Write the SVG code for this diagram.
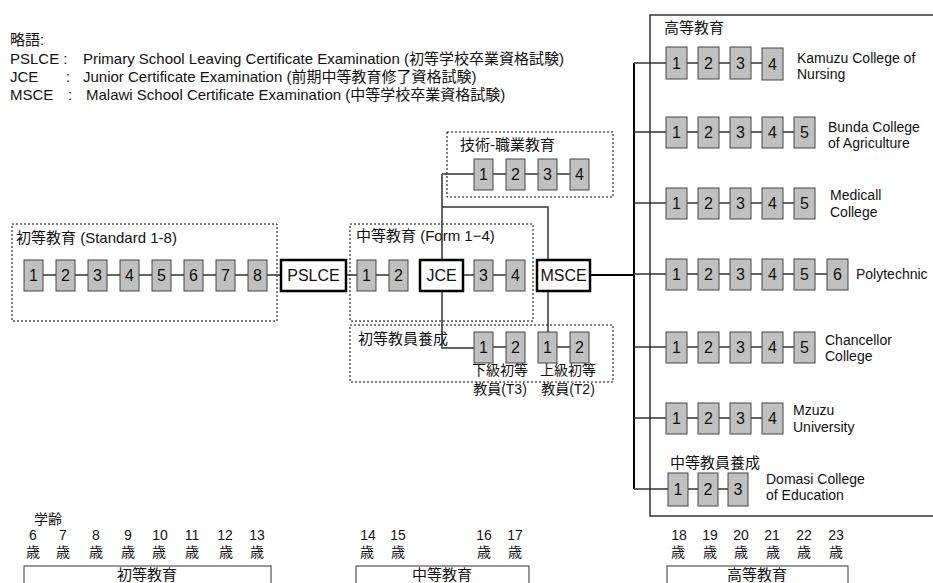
<svg xmlns="http://www.w3.org/2000/svg" width="933" height="583" viewBox="0 0 933 583">
<style>
text{font-family:"Liberation Sans","Noto Sans CJK JP",sans-serif;fill:#111;}
.t{font-size:14px;}
.g{font-size:15px;}
.h{font-size:15px;}
.n{font-size:16px;text-anchor:middle;}
.a{font-size:14px;text-anchor:middle;}
.b{fill:#c0c0c0;stroke:#444;stroke-width:1;}
.x{fill:#fff;stroke:#000;stroke-width:2.5;}
.d{fill:none;stroke:#000;stroke-width:1;stroke-dasharray:2,2;}
.l{fill:none;stroke:#333;stroke-width:1.5;}
.lt{fill:none;stroke:#000;stroke-width:2;}
.o{fill:none;stroke:#333;stroke-width:1.5;}
</style>

<g id="legend">
<text class="g" x="10" y="45">略語:</text>
<text class="g" x="10" y="64">PSLCE :</text>
<text class="g" x="83" y="64">Primary School Leaving Certificate Examination (初等学校卒業資格試験)</text>
<text class="g" x="10" y="82">JCE</text>
<text class="g" x="66" y="82">:</text>
<text class="g" x="83" y="82">Junior Certificate Examination (前期中等教育修了資格試験)</text>
<text class="g" x="10" y="100">MSCE</text>
<text class="g" x="68" y="100">:</text>
<text class="g" x="86" y="100">Malawi School Certificate Examination (中等学校卒業資格試験)</text>
</g>

<g id="frames">
<rect class="d" x="12" y="224" width="265" height="97"/>
<text class="h" x="16" y="243">初等教育 (Standard 1-8)</text>
<rect class="d" x="350" y="224" width="183" height="97"/>
<text class="h" x="356" y="241">中等教育 (Form 1−4)</text>
<rect class="d" x="447" y="132" width="166" height="65"/>
<text class="h" x="460" y="150">技術-職業教育</text>
<rect class="d" x="350" y="325" width="263" height="57"/>
<text class="h" x="358" y="344">初等教員養成</text>
<rect class="o" x="650" y="15" width="300" height="501"/>
<text class="h" x="664" y="33">高等教育</text>
<text class="h" x="670" y="468">中等教員養成</text>
</g>

<g id="connectors">
<path class="l" d="M33 275H281 M346 275H398 M442 275H516 M442 174H580 M442 174V348H484 M442 207H548V259 M548 291V332 M484 347H516 M548 347H580"/>
<path class="lt" d="M590 275H634 M634 63V489"/>
<path class="l" d="M634 63H773 M634 132H805 M634 203H805 M634 274H837 M634 347H805 M634 418H773 M634 489H738"/>
</g>

<g id="primary">
<rect class="b" x="24" y="260" width="19" height="31"/><text class="n" x="33.5" y="281">1</text>
<rect class="b" x="56" y="260" width="19" height="31"/><text class="n" x="65.5" y="281">2</text>
<rect class="b" x="88" y="260" width="19" height="31"/><text class="n" x="97.5" y="281">3</text>
<rect class="b" x="120" y="260" width="19" height="31"/><text class="n" x="129.5" y="281">4</text>
<rect class="b" x="152" y="260" width="19" height="31"/><text class="n" x="161.5" y="281">5</text>
<rect class="b" x="184" y="260" width="19" height="31"/><text class="n" x="193.5" y="281">6</text>
<rect class="b" x="216" y="260" width="19" height="31"/><text class="n" x="225.5" y="281">7</text>
<rect class="b" x="248" y="260" width="19" height="31"/><text class="n" x="257.5" y="281">8</text>
</g>
<g id="pslce">
<rect class="x" x="281" y="260" width="65" height="31"/><text class="n" x="313.5" y="281">PSLCE</text>
</g>
<g id="secondary">
<rect class="b" x="357" y="260" width="19" height="31"/><text class="n" x="366.5" y="281">1</text>
<rect class="b" x="389" y="260" width="19" height="31"/><text class="n" x="398.5" y="281">2</text>
<rect class="b" x="474" y="260" width="19" height="31"/><text class="n" x="483.5" y="281">3</text>
<rect class="b" x="506" y="260" width="19" height="31"/><text class="n" x="515.5" y="281">4</text>
</g>
<g id="jce">
<rect class="x" x="420" y="260" width="43" height="31"/><text class="n" x="441.5" y="281">JCE</text>
</g>
<g id="msce">
<rect class="x" x="537" y="260" width="53" height="31"/><text class="n" x="563.5" y="281">MSCE</text>
</g>
<g id="technical">
<rect class="b" x="474" y="159" width="19" height="31"/><text class="n" x="483.5" y="180">1</text>
<rect class="b" x="506" y="159" width="19" height="31"/><text class="n" x="515.5" y="180">2</text>
<rect class="b" x="538" y="159" width="19" height="31"/><text class="n" x="547.5" y="180">3</text>
<rect class="b" x="570" y="159" width="19" height="31"/><text class="n" x="579.5" y="180">4</text>
</g>
<g id="teacher-t3">
<rect class="b" x="474" y="332" width="19" height="31"/><text class="n" x="483.5" y="353">1</text>
<rect class="b" x="506" y="332" width="19" height="31"/><text class="n" x="515.5" y="353">2</text>
<text class="a" x="500" y="375">下級初等</text>
<text class="a" x="500" y="394">教員(T3)</text>
</g>
<g id="teacher-t2">
<rect class="b" x="538" y="332" width="19" height="31"/><text class="n" x="547.5" y="353">1</text>
<rect class="b" x="570" y="332" width="19" height="31"/><text class="n" x="579.5" y="353">2</text>
<text class="a" x="568" y="375">上級初等</text>
<text class="a" x="568" y="394">教員(T2)</text>
</g>

<g id="kamuzu">
<rect class="b" x="666" y="47" width="21" height="32"/><text class="n" x="676.5" y="69">1</text>
<rect class="b" x="698" y="47" width="21" height="32"/><text class="n" x="708.5" y="69">2</text>
<rect class="b" x="730" y="47" width="21" height="32"/><text class="n" x="740.5" y="69">3</text>
<rect class="b" x="762" y="48" width="21" height="32"/><text class="n" x="772.5" y="70">4</text>
<text class="t" x="797" y="63">Kamuzu College of</text>
<text class="t" x="797" y="79">Nursing</text>
</g>
<g id="bunda">
<rect class="b" x="666" y="117" width="21" height="31"/><text class="n" x="676.5" y="138">1</text>
<rect class="b" x="698" y="117" width="21" height="31"/><text class="n" x="708.5" y="138">2</text>
<rect class="b" x="730" y="117" width="21" height="31"/><text class="n" x="740.5" y="138">3</text>
<rect class="b" x="762" y="117" width="21" height="31"/><text class="n" x="772.5" y="138">4</text>
<rect class="b" x="794" y="117" width="21" height="31"/><text class="n" x="804.5" y="138">5</text>
<text class="t" x="828" y="132">Bunda College</text>
<text class="t" x="828" y="148">of Agriculture</text>
</g>
<g id="medical">
<rect class="b" x="666" y="188" width="21" height="31"/><text class="n" x="676.5" y="209">1</text>
<rect class="b" x="698" y="188" width="21" height="31"/><text class="n" x="708.5" y="209">2</text>
<rect class="b" x="730" y="188" width="21" height="31"/><text class="n" x="740.5" y="209">3</text>
<rect class="b" x="762" y="188" width="21" height="31"/><text class="n" x="772.5" y="209">4</text>
<rect class="b" x="794" y="188" width="21" height="31"/><text class="n" x="804.5" y="209">5</text>
<text class="t" x="830" y="200">Medicall</text>
<text class="t" x="830" y="217">College</text>
</g>
<g id="polytechnic">
<rect class="b" x="666" y="259" width="21" height="31"/><text class="n" x="676.5" y="280">1</text>
<rect class="b" x="698" y="259" width="21" height="31"/><text class="n" x="708.5" y="280">2</text>
<rect class="b" x="730" y="259" width="21" height="31"/><text class="n" x="740.5" y="280">3</text>
<rect class="b" x="762" y="259" width="21" height="31"/><text class="n" x="772.5" y="280">4</text>
<rect class="b" x="794" y="259" width="21" height="31"/><text class="n" x="804.5" y="280">5</text>
<rect class="b" x="827" y="259" width="21" height="31"/><text class="n" x="837.5" y="280">6</text>
<text class="t" x="856" y="279">Polytechnic</text>
</g>
<g id="chancellor">
<rect class="b" x="666" y="332" width="21" height="31"/><text class="n" x="676.5" y="353">1</text>
<rect class="b" x="698" y="332" width="21" height="31"/><text class="n" x="708.5" y="353">2</text>
<rect class="b" x="730" y="332" width="21" height="31"/><text class="n" x="740.5" y="353">3</text>
<rect class="b" x="762" y="332" width="21" height="31"/><text class="n" x="772.5" y="353">4</text>
<rect class="b" x="794" y="332" width="21" height="31"/><text class="n" x="804.5" y="353">5</text>
<text class="t" x="825" y="345">Chancellor</text>
<text class="t" x="825" y="361">College</text>
</g>
<g id="mzuzu">
<rect class="b" x="666" y="403" width="21" height="31"/><text class="n" x="676.5" y="424">1</text>
<rect class="b" x="698" y="403" width="21" height="31"/><text class="n" x="708.5" y="424">2</text>
<rect class="b" x="730" y="403" width="21" height="31"/><text class="n" x="740.5" y="424">3</text>
<rect class="b" x="762" y="403" width="21" height="31"/><text class="n" x="772.5" y="424">4</text>
<text class="t" x="793" y="415">Mzuzu</text>
<text class="t" x="793" y="432">University</text>
</g>
<g id="domasi">
<rect class="b" x="668" y="473" width="20" height="33"/><text class="n" x="678" y="495">1</text>
<rect class="b" x="698" y="473" width="20" height="33"/><text class="n" x="708" y="495">2</text>
<rect class="b" x="728" y="473" width="20" height="33"/><text class="n" x="738" y="495">3</text>
<text class="t" x="766" y="484">Domasi College</text>
<text class="t" x="766" y="500">of Education</text>
</g>

<g id="ages">
<text class="a" x="48" y="524">学齢</text>
<text class="a" x="33" y="540">6</text><text class="a" x="33" y="557">歳</text>
<text class="a" x="63" y="540">7</text><text class="a" x="63" y="557">歳</text>
<text class="a" x="96" y="540">8</text><text class="a" x="96" y="557">歳</text>
<text class="a" x="128" y="540">9</text><text class="a" x="128" y="557">歳</text>
<text class="a" x="160" y="540">10</text><text class="a" x="159" y="557">歳</text>
<text class="a" x="192" y="540">11</text><text class="a" x="192" y="557">歳</text>
<text class="a" x="225" y="540">12</text><text class="a" x="226" y="557">歳</text>
<text class="a" x="257" y="540">13</text><text class="a" x="257" y="557">歳</text>
<text class="a" x="368" y="540">14</text><text class="a" x="367" y="557">歳</text>
<text class="a" x="398" y="540">15</text><text class="a" x="398" y="557">歳</text>
<text class="a" x="484" y="540">16</text><text class="a" x="484" y="557">歳</text>
<text class="a" x="515" y="540">17</text><text class="a" x="515" y="557">歳</text>
<text class="a" x="679" y="540">18</text><text class="a" x="678" y="557">歳</text>
<text class="a" x="710" y="540">19</text><text class="a" x="710" y="557">歳</text>
<text class="a" x="741" y="540">20</text><text class="a" x="741" y="557">歳</text>
<text class="a" x="772" y="540">21</text><text class="a" x="773" y="557">歳</text>
<text class="a" x="804" y="540">22</text><text class="a" x="804" y="557">歳</text>
<text class="a" x="836" y="540">23</text><text class="a" x="836" y="557">歳</text>
</g>
<g id="stages">
<rect x="24" y="566" width="247" height="30" fill="none" stroke="#333" stroke-width="1"/>
<text class="a" x="147" y="580" style="font-size:15px">初等教育</text>
<rect x="356" y="566" width="173" height="30" fill="none" stroke="#333" stroke-width="1"/>
<text class="a" x="442" y="580" style="font-size:15px">中等教育</text>
<rect x="667" y="566" width="181" height="30" fill="none" stroke="#333" stroke-width="1"/>
<text class="a" x="757" y="580" style="font-size:15px">高等教育</text>
</g>
</svg>
